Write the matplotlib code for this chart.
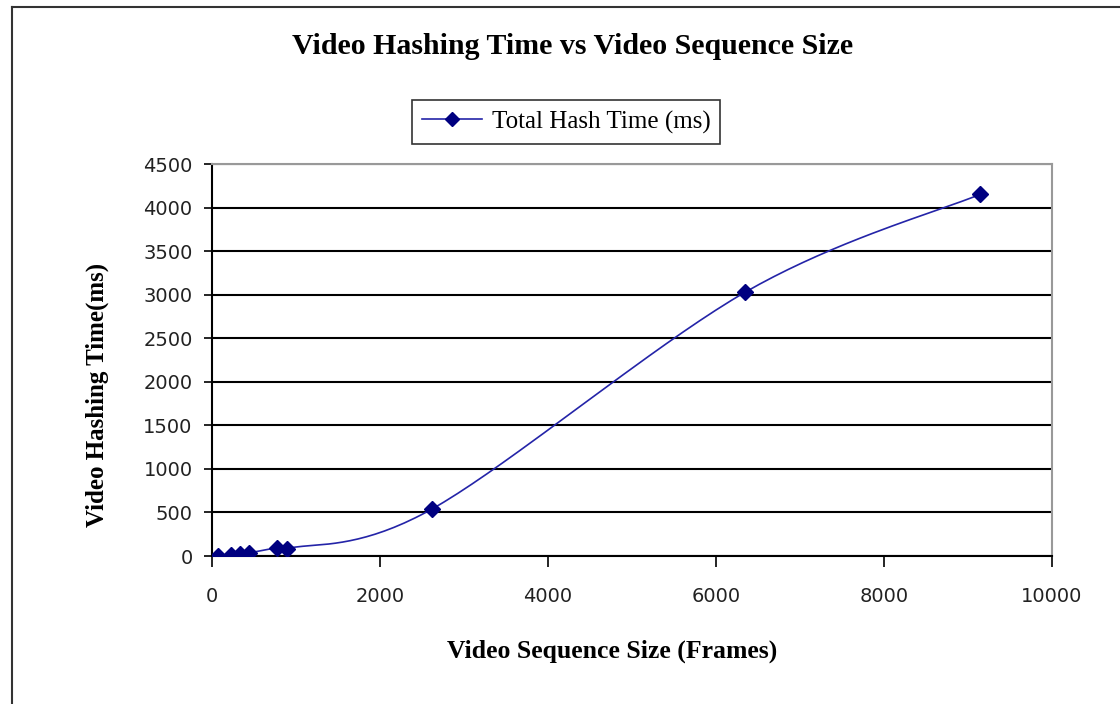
import numpy as np
import matplotlib
matplotlib.use("Agg")
import matplotlib.pyplot as plt
from matplotlib.lines import Line2D

frames = [70, 225, 330, 440, 775, 895, 2620, 6350, 9140]
hash_ms = [5, 12, 20, 35, 95, 85, 540, 3030, 4150]
series_name = "Total Hash Time (ms)"
title = "Video Hashing Time vs Video Sequence Size"
xlabel = "Video Sequence Size (Frames)"
ylabel = "Video Hashing Time(ms)"
xticks = [0, 2000, 4000, 6000, 8000, 10000]
yticks = [0, 500, 1000, 1500, 2000, 2500, 3000, 3500, 4000, 4500]

fig = plt.figure(figsize=(11.2, 7.04), dpi=100)
ax = fig.add_axes([212/1120, 1-556/704, (1052-212)/1120, (556-164)/704])

ax.set_xlim(0, 10000)
ax.set_ylim(0, 4500)

# Excel-like smoothed line (Catmull-Rom Bezier in display-proportional space)
def smooth(xs, ys, n=40):
    xs = np.asarray(xs, float); ys = np.asarray(ys, float)
    sx = 840/10000.0; sy = 392/4500.0
    P = np.column_stack([xs*sx, ys*sy])
    out = []
    for i in range(len(P)-1):
        p0 = P[i-1] if i > 0 else P[i]
        p1 = P[i]; p2 = P[i+1]
        p3 = P[i+2] if i+2 < len(P) else P[i+1]
        c1 = p1 + (p2 - p0)/6.0
        c2 = p2 - (p3 - p1)/6.0
        t = np.linspace(0, 1, n)[:, None]
        seg = (1-t)**3*p1 + 3*(1-t)**2*t*c1 + 3*(1-t)*t**2*c2 + t**3*p2
        out.append(seg if i == 0 else seg[1:])
    S = np.vstack(out)
    return S[:, 0]/sx, S[:, 1]/sy

cx, cy = smooth(frames, hash_ms)
ax.plot(cx, cy, color="#2424a8", lw=1.2, zorder=3)
ax.plot(frames, hash_ms, linestyle="none", marker="D", ms=8, color="#000080",
        markeredgecolor="#000080", zorder=4)

ax.set_xticks(xticks)
ax.set_yticks(yticks)
ax.set_xticklabels([str(v) for v in xticks], fontsize=14, family="DejaVu Sans", color="#222222")
ax.set_yticklabels([str(v) for v in yticks], fontsize=14, family="DejaVu Sans", color="#222222")
ax.tick_params(axis="y", direction="inout", length=12, width=1.2, color="black", pad=8)
ax.tick_params(axis="x", direction="out", length=8, width=1.2, color="black", pad=14)

ax.yaxis.grid(True, color="black", lw=1.5)
ax.set_axisbelow(True)
for s in ["left", "bottom"]:
    ax.spines[s].set_color("black"); ax.spines[s].set_linewidth(1.5)
for s in ["top", "right"]:
    ax.spines[s].set_color("#999999"); ax.spines[s].set_linewidth(1.5)

fig.text(573/1120, 1-46/704, title, ha="center", va="center", fontsize=21.5,
         fontweight="bold", family="Liberation Serif")
fig.text(612/1120, 1-651/704, xlabel, ha="center", va="center", fontsize=18.5,
         fontweight="bold", family="Liberation Serif")
fig.text(97/1120, 1-395/704, ylabel, ha="center", va="center", fontsize=18,
         fontweight="bold", family="Liberation Serif", rotation=90)

handle = Line2D([], [], color="#2424a8", lw=1.2, marker="D", ms=7,
                markerfacecolor="#000080", markeredgecolor="#000080")
leg = fig.legend([handle], [series_name], loc="center",
                 bbox_to_anchor=(566/1120, 1-122/704), frameon=True, fancybox=False,
                 edgecolor="black", prop={"family": "Liberation Serif", "size": 18},
                 handlelength=2.4, handletextpad=0.4, borderpad=0.4)
leg.get_frame().set_linewidth(1.2)

# outer chart frame
fig.add_artist(Line2D([12/1120, 12/1120], [0, 1-7/704], color="#333333", lw=1.5))
fig.add_artist(Line2D([12/1120, 1], [1-7/704, 1-7/704], color="#333333", lw=1.5))

fig.savefig("out.png", dpi=100)
